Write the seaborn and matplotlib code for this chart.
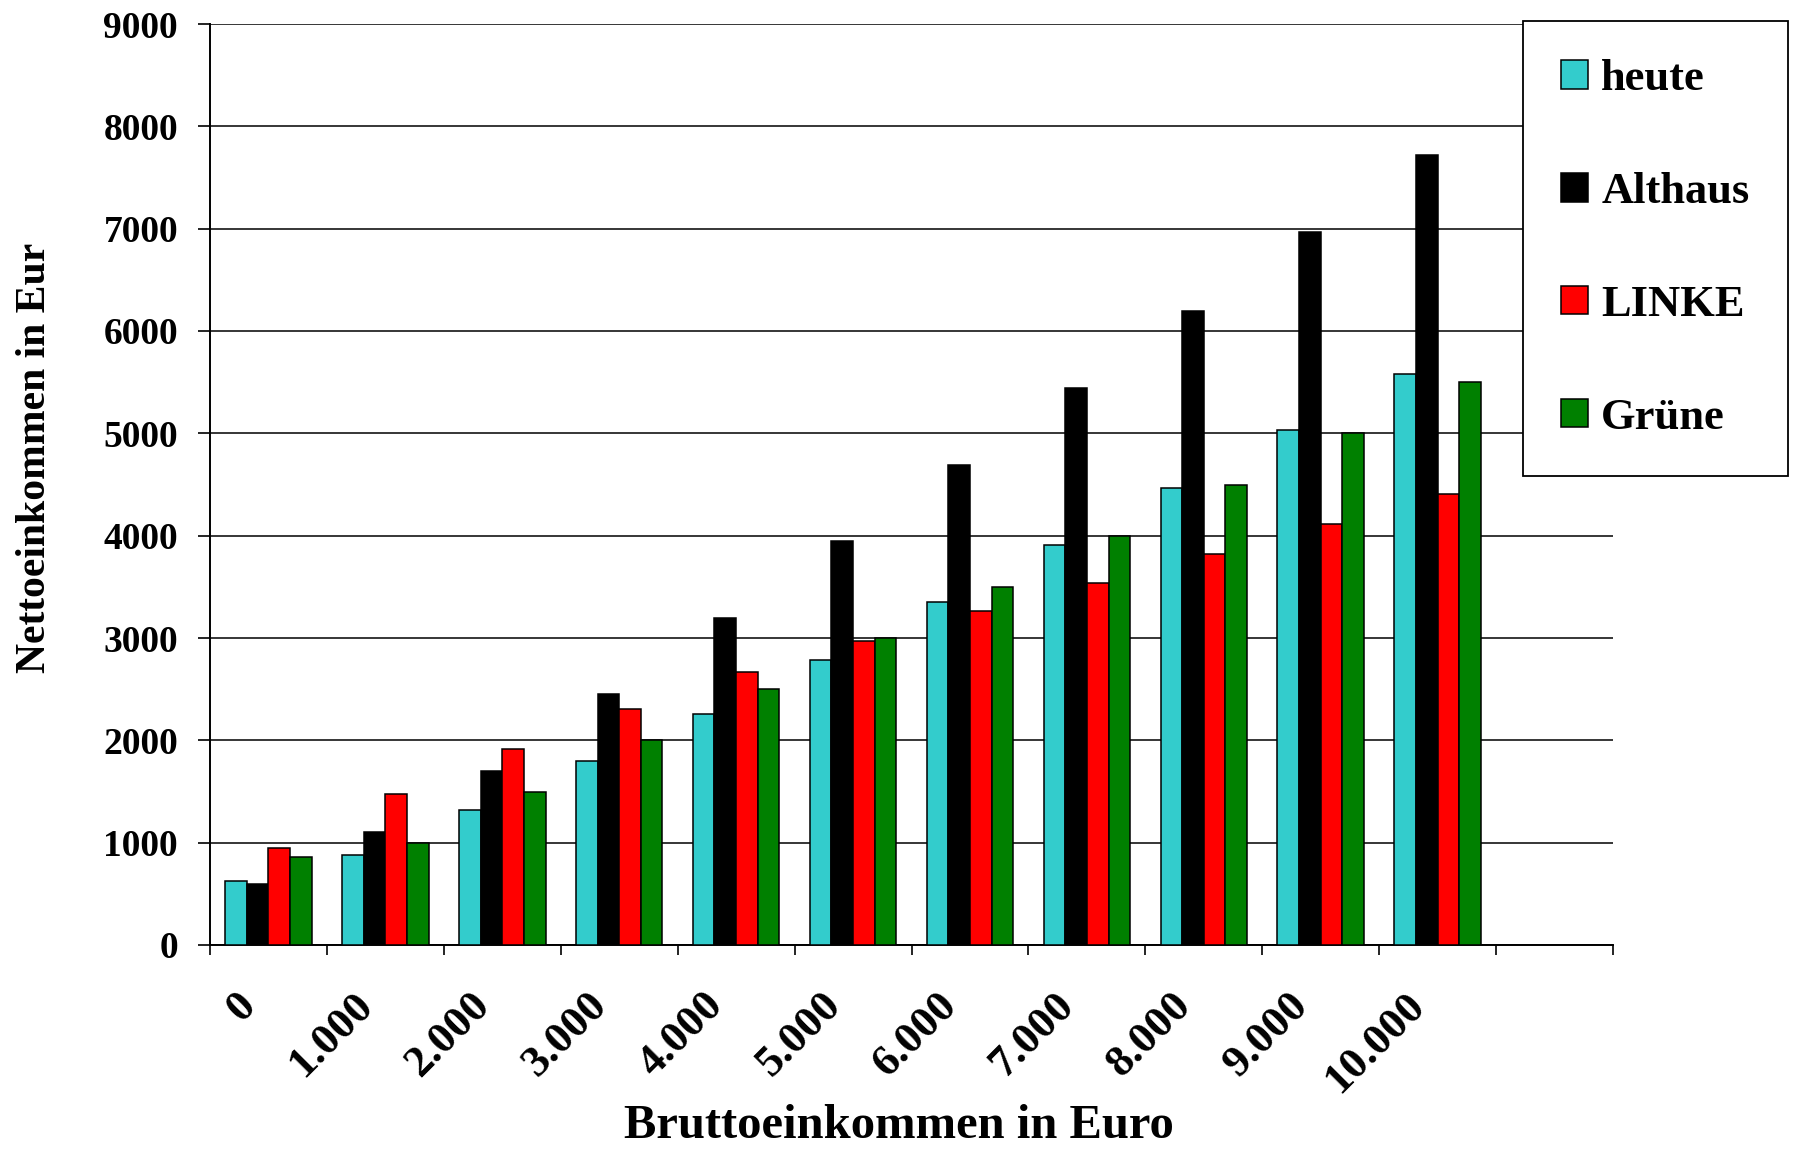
import matplotlib
matplotlib.use("Agg")
import matplotlib.pyplot as plt
import matplotlib.transforms as mtransforms
import seaborn as sns
import pandas as pd
import numpy as np

categories = ["0", "1.000", "2.000", "3.000", "4.000", "5.000",
              "6.000", "7.000", "8.000", "9.000", "10.000"]
heute = [627, 880, 1320, 1800, 2260, 2785, 3347, 3910, 4468, 5030, 5583]
althaus = [594, 1104, 1700, 2450, 3196, 3947, 4695, 5440, 6192, 6965, 7717]
linke = [945, 1475, 1917, 2307, 2665, 2970, 3261, 3536, 3823, 4115, 4406]
gruene = [861, 1000, 1500, 2000, 2500, 3000, 3500, 4000, 4500, 5000, 5500]
series_names = ["heute", "Althaus", "LINKE", "Grüne"]
colors = ["#33CCCC", "#000000", "#FF0000", "#008000"]
yticks = [0, 1000, 2000, 3000, 4000, 5000, 6000, 7000, 8000, 9000]

rows = []
for name, vals in zip(series_names, [heute, althaus, linke, gruene]):
    for c, v in zip(categories, vals):
        rows.append({"cat": c, "series": name, "val": v})
df = pd.DataFrame(rows)

sns.set_theme(style="white")
plt.rcParams["font.family"] = ["Liberation Serif", "DejaVu Serif"]
plt.rcParams["font.weight"] = "bold"
plt.rcParams["text.color"] = "black"
plt.rcParams["axes.labelcolor"] = "black"
plt.rcParams["xtick.color"] = "black"
plt.rcParams["ytick.color"] = "black"

fig = plt.figure(figsize=(18.01, 11.55), dpi=100)
ax = fig.add_axes([210 / 1801, 1 - 945 / 1155, 1403 / 1801, 921 / 1155])

sns.barplot(data=df, x="cat", y="val", hue="series", order=categories,
            hue_order=series_names, palette=colors, width=0.74, gap=0,
            edgecolor="black", linewidth=1.1, saturation=1, ax=ax, zorder=3)

ax.set_xlim(-0.5, 11.5)
ax.set_ylim(0, 9000)
ax.set_yticks(yticks)
ax.set_yticklabels([str(t) for t in yticks], fontsize=27, fontweight="bold",
                   color="black")
ax.yaxis.grid(True, color="black", linewidth=1.1, zorder=0)
ax.set_axisbelow(True)

# x ticks at boundaries (marks only), labels at centres
ax.set_xticks(np.arange(-0.5, 12.0, 1.0))
ax.set_xticklabels([])
ax.set_xticks(np.arange(len(categories)), minor=True)
ax.set_xticklabels(categories, minor=True, rotation=45, ha="right", va="top",
                   rotation_mode="anchor", fontsize=32, fontweight="bold",
                   color="black")
ax.tick_params(axis="x", which="major", direction="out", length=7, width=1.2,
               color="black", bottom=True)
ax.tick_params(axis="x", which="minor", length=0, pad=29, bottom=True)
ax.tick_params(axis="y", direction="out", length=9, width=1.2, color="black",
               pad=14, left=True)
offset = mtransforms.ScaledTranslation(-0.33, 0, fig.dpi_scale_trans)
for lab in ax.get_xticklabels(minor=True):
    lab.set_transform(lab.get_transform() + offset)

for s in ["top", "right"]:
    ax.spines[s].set_visible(False)
for s in ["left", "bottom"]:
    ax.spines[s].set_color("black")
    ax.spines[s].set_linewidth(1.4)

ax.set_xlabel("Bruttoeinkommen in Euro", fontsize=35, fontweight="bold",
              color="black")
ax.set_ylabel("Nettoeinkommen in Eur", fontsize=30, fontweight="bold",
              color="black")
ax.xaxis.set_label_coords(0.491, -0.173)
ax.yaxis.set_label_coords(-0.125, 0.529)
ax.yaxis.label.set_va("center")

handles, labels = ax.get_legend_handles_labels()
ax.get_legend().remove()
leg = fig.legend(handles, labels, loc="upper left",
                 bbox_to_anchor=(1523 / 1801, 1 - 21 / 1155),
                 borderaxespad=0,
                 frameon=True, fancybox=False, shadow=False,
                 edgecolor="black", framealpha=1, borderpad=0.86,
                 labelspacing=1.64, handlelength=0.6, handleheight=0.6,
                 handletextpad=0.3, prop={"weight": "bold", "size": 32})
leg.get_frame().set_linewidth(1.3)
for t in leg.get_texts():
    t.set_color("black")

fig.savefig("out.png", dpi=100, facecolor="white")
